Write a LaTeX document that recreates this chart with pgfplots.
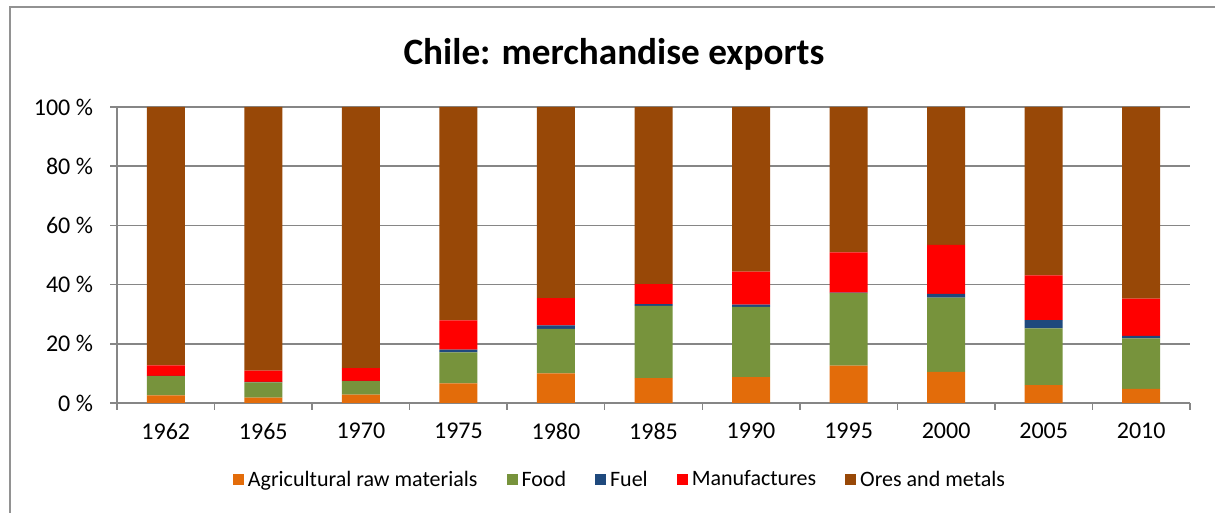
\documentclass[border=0pt]{standalone}
\usepackage{pgfplots}
\pgfplotsset{compat=1.18}
\usepackage{fontspec}
\setmainfont{Carlito}
\definecolor{cAgr}{HTML}{E36C0A}
\definecolor{cFood}{HTML}{77933C}
\definecolor{cFuel}{HTML}{1F497D}
\definecolor{cMan}{HTML}{FF0000}
\definecolor{cOre}{HTML}{984807}
\definecolor{cGrid}{HTML}{868686}
\begin{document}
\begin{tikzpicture}
\useasboundingbox (0,0) rectangle (607.5pt,256.5pt);
\draw[cGrid!90, line width=1pt] (4.75pt,0) -- (4.75pt,252.75pt) -- (607.5pt,252.75pt);
\node[font=\fontsize{18.6}{20}\selectfont\bfseries] at (307pt,229.5pt) {Chile: merchandise exports};
\begin{axis}[
  at={(58.5pt,55pt)}, anchor=south west,
  scale only axis, width=536.5pt, height=148pt,
  ybar stacked, bar width=19pt,
  xmin=-0.5, xmax=10.5, ymin=0, ymax=100,
  axis x line*=bottom, axis y line*=left,
  axis line style={cGrid, line width=0.75pt, -},
  xtick={0,...,10},
  xticklabels={1962,1965,1970,1975,1980,1985,1990,1995,2000,2005,2010},
  minor xtick={-0.5,0.5,...,10.5},
  major x tick style={draw=none},
  minor x tick style={cGrid, line width=0.75pt},
  minor tick length=3.5pt,
  ytick={0,20,40,60,80,100},
  yticklabels={0 \%,20 \%,40 \%,60 \%,80 \%,100 \%},
  y tick style={cGrid, line width=0.75pt},
  major tick length=3.5pt,
  tick align=outside,
  ymajorgrids, grid style={cGrid, line width=0.75pt},
  ticklabel style={font=\fontsize{12}{14}\selectfont},
  yticklabel style={xshift=-5pt},
  xticklabel style={yshift=-3pt},
  legend style={at={(0.4697,-0.26)}, anchor=center, draw=none, fill=none,
    legend columns=5, font=\fontsize{11}{12}\selectfont,
    /tikz/every even column/.append style={column sep=12.5pt}},
  legend image code/.code={\fill[#1] (0pt,-2.75pt) rectangle (5.5pt,2.75pt);},
]
\addplot[fill=cAgr, draw=none] coordinates {(0,2.6) (1,1.8) (2,2.8) (3,6.6) (4,10.0) (5,8.4) (6,8.7) (7,12.6) (8,10.5) (9,6.0) (10,4.8)};
\addplot[fill=cFood, draw=none] coordinates {(0,6.5) (1,5.2) (2,4.6) (3,10.5) (4,15.0) (5,24.4) (6,23.8) (7,24.5) (8,25.1) (9,19.2) (10,17.0)};
\addplot[fill=cFuel, draw=none] coordinates {(0,0.1) (1,0.1) (2,0.1) (3,0.9) (4,1.2) (5,0.6) (6,0.7) (7,0.2) (8,1.3) (9,2.8) (10,0.9)};
\addplot[fill=cMan, draw=none] coordinates {(0,3.5) (1,3.8) (2,4.3) (3,9.9) (4,9.2) (5,6.8) (6,11.2) (7,13.6) (8,16.5) (9,15.1) (10,12.6)};
\addplot[fill=cOre, draw=none] coordinates {(0,87.3) (1,89.1) (2,88.2) (3,72.1) (4,64.6) (5,59.8) (6,55.6) (7,49.1) (8,46.6) (9,56.9) (10,64.7)};
\legend{Agricultural raw materials, Food, Fuel, Manufactures, Ores and metals}
\end{axis}
\end{tikzpicture}
\end{document}
